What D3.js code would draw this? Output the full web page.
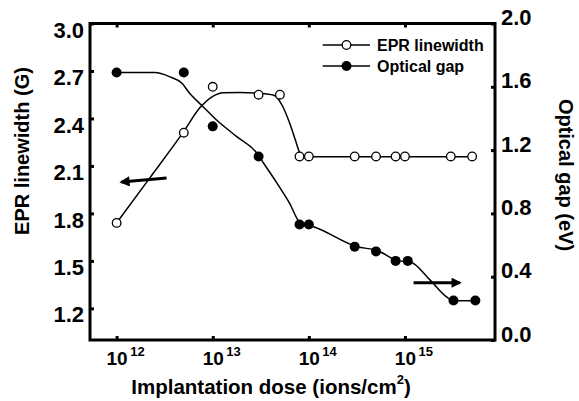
<!DOCTYPE html>
<html><head><meta charset="utf-8">
<script src="https://cdn.jsdelivr.net/npm/d3@7"></script>
<style>
html,body{margin:0;padding:0;background:#fff;}
text{font-family:"Liberation Sans",Arial,sans-serif;font-weight:bold;fill:#000;}
</style></head>
<body>
<svg id="chart" width="579" height="401"></svg>
<script>
// ---------- data ----------
const eprDose  = [1e12, 5e12, 1e13, 3e13, 5e13, 8e13, 1e14, 3e14, 5e14, 8e14, 1e15, 3e15, 5e15];
const eprWidth = [1.74, 2.31, 2.60, 2.55, 2.55, 2.16, 2.16, 2.16, 2.16, 2.16, 2.16, 2.16, 2.16];

const gapDose  = [1e12, 5e12, 1e13, 3e13, 8e13, 1e14, 3e14, 5e14, 8e14, 1.07e15, 3.2e15, 5.4e15];
const gapValue = [1.69, 1.69, 1.35, 1.16, 0.73, 0.73, 0.59, 0.56, 0.50, 0.50, 0.25, 0.25];

// guide curves drawn through the data (exponents of dose)
const eprFitExp   = [12.0, 12.34, 12.69, 12.87, 13.0, 13.11, 13.28, 13.49, 13.63, 13.73, 13.80, 13.86, 13.90, 13.95, 15.70];
const eprFitValue = [1.74, 2.02, 2.31, 2.47, 2.54, 2.563, 2.564, 2.559, 2.548, 2.474, 2.371, 2.264, 2.19, 2.158, 2.158];

const gapFitExp   = [12.0, 12.4, 12.55, 12.68, 12.76, 12.90, 13.04, 13.25, 13.46, 13.53, 13.67, 13.80, 13.91, 14.05, 14.50, 14.72, 14.93, 15.05, 15.26, 15.43, 15.50, 15.73];
const gapFitValue = [1.69, 1.69, 1.664, 1.622, 1.559, 1.474, 1.39, 1.285, 1.18, 1.117, 0.99, 0.864, 0.74, 0.716, 0.59, 0.564, 0.50, 0.495, 0.38, 0.274, 0.248, 0.248];

// axis ticks
const xTicks     = [1e12, 1e13, 1e14, 1e15];
const xTickExp   = ["12", "13", "14", "15"];
const leftTicks  = [1.2, 1.5, 1.8, 2.1, 2.4, 2.7, 3.0];
const rightTicks = [0.0, 0.4, 0.8, 1.2, 1.6, 2.0];

// arrows: [dose, value] pairs (left arrow on EPR axis, right arrow on gap axis)
const leftArrowFrom  = [Math.pow(10, 12.52), 2.024];
const leftArrowTo    = [Math.pow(10, 12.05), 1.998];
const rightArrowFrom = [Math.pow(10, 15.09), 0.362];
const rightArrowTo   = [Math.pow(10, 15.57), 0.362];

const legendNames = ["EPR linewidth", "Optical gap"];

// ---------- layout ----------
const L = 90, R = 495, T = 23.5, B = 340;
const svg = d3.select("#chart");

const x = d3.scaleLog().domain([Math.pow(10, 11.723), Math.pow(10, 15.937)]).range([L, R]);
const yL = d3.scaleLinear().domain([1.0, 3.0]).range([B, T]);
const yR = d3.scaleLinear().domain([0.0, 2.0]).range([B, T]);

// arrow head
svg.append("defs").append("marker")
  .attr("id", "ah").attr("viewBox", "0 0 10 10").attr("refX", 8).attr("refY", 5)
  .attr("markerWidth", 4.5).attr("markerHeight", 3.4).attr("orient", "auto")
  .attr("markerUnits", "strokeWidth")
  .append("path").attr("d", "M0,0 L10,5 L0,10 z").attr("fill", "#000");

// axes
function styleAxis(g){
  g.select(".domain").remove();
  g.selectAll(".tick line").attr("stroke", "#000").attr("stroke-width", 3);
}
const bottomAxis = svg.append("g").attr("transform", `translate(0,${B})`)
  .call(d3.axisBottom(x).tickValues(xTicks).tickSize(-4).tickFormat(""));
styleAxis(bottomAxis);
bottomAxis.selectAll(".tick text").remove();
const topAxis = svg.append("g").attr("transform", `translate(0,${T})`)
  .call(d3.axisTop(x).tickValues(xTicks).tickSize(-4).tickFormat(""));
styleAxis(topAxis);
topAxis.selectAll(".tick text").remove();

const leftAxis = svg.append("g").attr("transform", `translate(${L},0)`)
  .call(d3.axisLeft(yL).tickValues(leftTicks).tickSize(-4).tickPadding(6).tickFormat(d3.format(".1f")));
styleAxis(leftAxis);
leftAxis.selectAll(".tick text").attr("font-size", 22).attr("font-family", "Liberation Sans").attr("font-weight", "bold").attr("dy", "0.62em");

const rightAxis = svg.append("g").attr("transform", `translate(${R},0)`)
  .call(d3.axisRight(yR).tickValues(rightTicks).tickSize(-4).tickPadding(6).tickFormat(d3.format(".1f")));
styleAxis(rightAxis);
rightAxis.selectAll(".tick text").attr("font-size", 22).attr("font-family", "Liberation Sans").attr("font-weight", "bold").attr("dy", "0.05em");

// x tick labels 10^n (one text each, exponent as raised tspan)
bottomAxis.selectAll(".tick").each(function(d, i){
  const t = d3.select(this).append("text")
    .attr("x", -10.6).attr("y", 25).attr("text-anchor", "start")
    .attr("font-family", "Liberation Sans").attr("font-weight", "bold").attr("fill", "#000");
  t.append("tspan").attr("font-size", 19).text("10");
  t.append("tspan").attr("font-size", 13).attr("dx", 2.5).attr("dy", -9).text(xTickExp[i]);
});

// frame
svg.append("rect").attr("x", L).attr("y", T).attr("width", R - L).attr("height", B - T)
  .attr("fill", "none").attr("stroke", "#000").attr("stroke-width", 3);

// curves
const eprFit = eprFitExp.map((e, i) => [Math.pow(10, e), eprFitValue[i]]);
const gapFit = gapFitExp.map((e, i) => [Math.pow(10, e), gapFitValue[i]]);
svg.append("path").datum(eprFit)
  .attr("d", d3.line().x(d => x(d[0])).y(d => yL(d[1])).curve(d3.curveMonotoneX))
  .attr("fill", "none").attr("stroke", "#000").attr("stroke-width", 1.5);
svg.append("path").datum(gapFit)
  .attr("d", d3.line().x(d => x(d[0])).y(d => yR(d[1])).curve(d3.curveMonotoneX))
  .attr("fill", "none").attr("stroke", "#000").attr("stroke-width", 1.5);

// markers
svg.append("g").selectAll("circle").data(eprDose).join("circle")
  .attr("cx", d => x(d)).attr("cy", (d, i) => yL(eprWidth[i])).attr("r", 4.3)
  .attr("fill", "#fff").attr("stroke", "#000").attr("stroke-width", 1.3);
svg.append("g").selectAll("circle").data(gapDose).join("circle")
  .attr("cx", d => x(d)).attr("cy", (d, i) => yR(gapValue[i])).attr("r", 5)
  .attr("fill", "#000");

// arrows
svg.append("line")
  .attr("x1", x(leftArrowFrom[0])).attr("y1", yL(leftArrowFrom[1]))
  .attr("x2", x(leftArrowTo[0])).attr("y2", yL(leftArrowTo[1]))
  .attr("stroke", "#000").attr("stroke-width", 3).attr("marker-end", "url(#ah)");
svg.append("line")
  .attr("x1", x(rightArrowFrom[0])).attr("y1", yR(rightArrowFrom[1]))
  .attr("x2", x(rightArrowTo[0])).attr("y2", yR(rightArrowTo[1]))
  .attr("stroke", "#000").attr("stroke-width", 3).attr("marker-end", "url(#ah)");

// legend
const lg = svg.append("g");
legendNames.forEach((name, i) => {
  const yy = 45 + i * 21;
  lg.append("line").attr("x1", 322.7).attr("x2", 370).attr("y1", yy).attr("y2", yy)
    .attr("stroke", "#000").attr("stroke-width", 1.5);
  lg.append("circle").attr("cx", 346.5).attr("cy", yy).attr("r", i === 0 ? 4.3 : 5)
    .attr("fill", i === 0 ? "#fff" : "#000").attr("stroke", "#000").attr("stroke-width", i === 0 ? 1.3 : 0);
  lg.append("text").attr("x", 377).attr("y", yy + 6).attr("font-size", 16).text(name);
});

// axis titles
svg.append("text").attr("transform", "translate(29,151) rotate(-90)")
  .attr("text-anchor", "middle").attr("font-size", 20).text("EPR linewidth (G)");
svg.append("text").attr("transform", "translate(559,175) rotate(90)")
  .attr("text-anchor", "middle").attr("font-size", 20).text("Optical gap (eV)");
const xt = svg.append("text").attr("x", 271).attr("y", 394).attr("text-anchor", "middle").attr("font-size", 20.5);
xt.append("tspan").text("Implantation dose (ions/cm");
xt.append("tspan").attr("font-size", 13).attr("dy", -10).text("2");
xt.append("tspan").attr("dy", 10).text(")");
</script>
</body></html>
